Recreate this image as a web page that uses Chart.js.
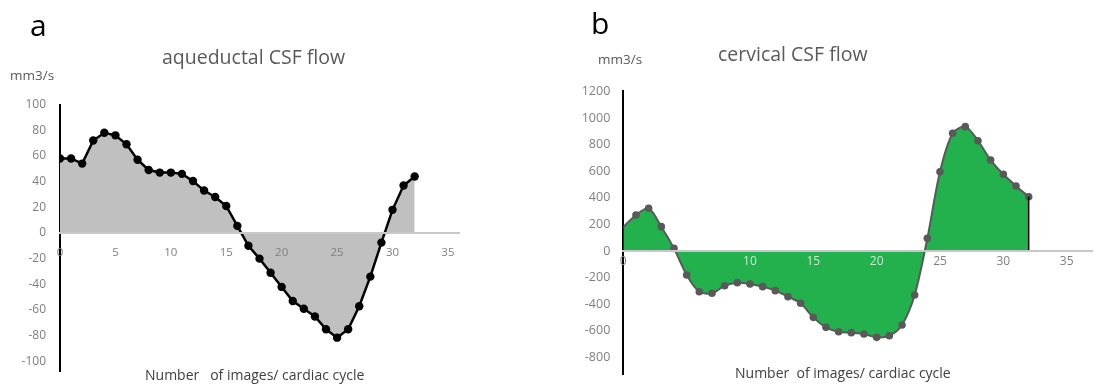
<!DOCTYPE html>
<html>
<head>
<meta charset="utf-8">
<script src="https://cdn.jsdelivr.net/npm/chart.js@4.4.0/dist/chart.umd.min.js"></script>
<style>
  html, body { margin: 0; padding: 0; background: #fff; }
  body { width: 1103px; height: 387px; position: relative; overflow: hidden; font-family: "Open Sans", sans-serif; }
  .box { position: absolute; top: 0; height: 387px; }
  .txt { position: absolute; white-space: pre; line-height: 1; }
  .panel { font-size: 30px; color: #000; }
  .unit { font-size: 13.5px; color: #595959; }
  .title { font-size: 19.5px; color: #595959; }
  .cap { font-size: 14px; color: #404040; }
</style>
</head>
<body>
<div class="box" style="left:0;width:550px"><canvas id="cA" width="550" height="387"></canvas></div>
<div class="box" style="left:550px;width:553px"><canvas id="cB" width="553" height="387"></canvas></div>

<div class="txt panel" style="left:30px;top:10px">a</div>
<div class="txt panel" style="left:591px;top:8px">b</div>
<div class="txt unit" style="left:10px;top:69px">mm3/s</div>
<div class="txt unit" style="left:598px;top:53px">mm3/s</div>
<div class="txt title" style="left:162px;top:47px">aqueductal CSF flow</div>
<div class="txt title" style="left:718px;top:44px">cervical CSF flow</div>
<div class="txt cap" style="left:145px;top:368px">Number   of images/ cardiac cycle</div>
<div class="txt cap" style="left:735px;top:366px">Number  of images/ cardiac cycle</div>

<script>
// ---- data ----
const frames = [0,1,2,3,4,5,6,7,8,9,10,11,12,13,14,15,16,17,18,19,20,21,22,23,24,25,26,27,28,29,30,31,32];
const aqueductalFlow = [58,58,54,72,78,76,69,57,49,47,47,46,40.5,33,28,21,5.5,-10,-20,-31,-42,-53,-59,-65,-75,-81.5,-75,-57,-34,-7.5,18,37,44];
const cervicalFlow = [180,271,321,183,20,-180,-306,-318,-261,-238,-248,-268,-298,-343,-393,-499,-574,-607,-614,-624,-649,-637,-556,-331,95,596,885,935,829,684,577,489,408];
const aqueductalYTicks = [100,80,60,40,20,0,-20,-40,-60,-80,-100];
const cervicalYTicks = [1200,1000,800,600,400,200,0,-200,-400,-600,-800];
const xTicks = [0,5,10,15,20,25,30,35];

function fixedTicks(values) {
  return function(scale) { scale.ticks = values.map(v => ({ value: v })); };
}
const plain = (v) => String(v);
function fitY(width) {
  return function(scale) {
    scale.width = width;
    scale.paddingTop = 0;
    scale.paddingBottom = 0;
  };
}
function fitX(scale) {
  scale.height = 0;
  scale.paddingLeft = 0;
  scale.paddingRight = 0;
}

// vertical edge line at last point (right chart)
const edgeLine = {
  id: 'edgeLine',
  afterDatasetsDraw(chart, args, opts) {
    if (!opts.enabled) return;
    const ds = chart.data.datasets[0].data;
    const last = ds[ds.length - 1];
    const xs = chart.scales.x, ys = chart.scales.y;
    const ctx = chart.ctx;
    ctx.save();
    ctx.strokeStyle = '#000';
    ctx.lineWidth = 1.5;
    ctx.beginPath();
    ctx.moveTo(xs.getPixelForValue(last.x), ys.getPixelForValue(0));
    ctx.lineTo(xs.getPixelForValue(last.x), ys.getPixelForValue(last.y));
    ctx.stroke();
    ctx.restore();
  }
};

// ---- chart a ----
new Chart(document.getElementById('cA'), {
  type: 'line',
  data: {
    datasets: [{
      data: frames.map((f, i) => ({ x: f, y: aqueductalFlow[i] })),
      borderColor: '#000',
      borderWidth: 2.5,
      backgroundColor: '#c0c0c0',
      fill: 'origin',
      pointRadius: 4.2,
      pointBackgroundColor: '#000',
      pointBorderColor: '#000',
      pointBorderWidth: 0,
      tension: 0
    }]
  },
  options: {
    responsive: false,
    animation: false,
    events: [],
    layout: { autoPadding: false, padding: { left: 0, right: 91, top: 104.5, bottom: 15.3 } },
    plugins: { legend: { display: false }, tooltip: { enabled: false }, title: { display: false }, edgeLine: { enabled: false } },
    scales: {
      x: {
        type: 'linear',
        position: { y: 0 },
        min: 0, max: 36,
        afterBuildTicks: fixedTicks(xTicks),
        afterFit: fitX,
        grid: { display: false, drawTicks: false },
        border: { display: true, color: '#c8c8c8', width: 2, z: 1 },
        ticks: { color: '#7f7f7f', font: { family: "Open Sans", size: 11.5 }, padding: 13, maxRotation: 0, autoSkip: false, z: 1, callback: plain }
      },
      y: {
        type: 'linear',
        min: -108, max: 100,
        afterBuildTicks: fixedTicks(aqueductalYTicks),
        afterFit: fitY(60),
        grid: { display: false, drawTicks: false },
        border: { display: true, color: '#000', width: 2 },
        ticks: { color: '#7f7f7f', font: { family: "Open Sans", size: 12 }, padding: 14, callback: plain }
      }
    }
  },
  plugins: [edgeLine]
});

// ---- chart b ----
new Chart(document.getElementById('cB'), {
  type: 'line',
  data: {
    datasets: [{
      data: frames.map((f, i) => ({ x: f, y: cervicalFlow[i] })),
      borderColor: '#595959',
      borderWidth: 2,
      backgroundColor: '#22b14c',
      fill: 'origin',
      pointRadius: frames.map((f, i) => i === 0 ? 0 : 3.8),
      pointBackgroundColor: '#595959',
      pointBorderColor: '#595959',
      pointBorderWidth: 0,
      tension: 0.3
    }]
  },
  options: {
    responsive: false,
    animation: false,
    events: [],
    layout: { autoPadding: false, padding: { left: 0, right: 11, top: 91.4, bottom: 12.3 } },
    plugins: { legend: { display: false }, tooltip: { enabled: false }, title: { display: false }, edgeLine: { enabled: true } },
    scales: {
      x: {
        type: 'linear',
        position: { y: 0 },
        min: 0, max: 37,
        afterBuildTicks: fixedTicks(xTicks),
        afterFit: fitX,
        grid: { display: false, drawTicks: false },
        border: { display: true, color: '#c8c8c8', width: 2, z: 1 },
        ticks: {
          color: (ctx) => {
            const v = ctx.tick ? ctx.tick.value : null;
            if (v === 5) return 'rgba(0,0,0,0)';
            if (v === 10 || v === 15 || v === 20) return '#cfe8d4';
            return '#7f7f7f';
          },
          font: { family: "Open Sans", size: 12 }, padding: 3, maxRotation: 0, autoSkip: false, z: 1, callback: plain
        }
      },
      y: {
        type: 'linear',
        min: -930, max: 1200,
        afterBuildTicks: fixedTicks(cervicalYTicks),
        afterFit: fitY(73.3),
        grid: { display: false, drawTicks: false },
        border: { display: true, color: '#000', width: 2 },
        ticks: { color: '#7f7f7f', font: { family: "Open Sans", size: 12.5 }, padding: 13, callback: plain }
      }
    }
  },
  plugins: [edgeLine]
});
</script>
</body>
</html>
